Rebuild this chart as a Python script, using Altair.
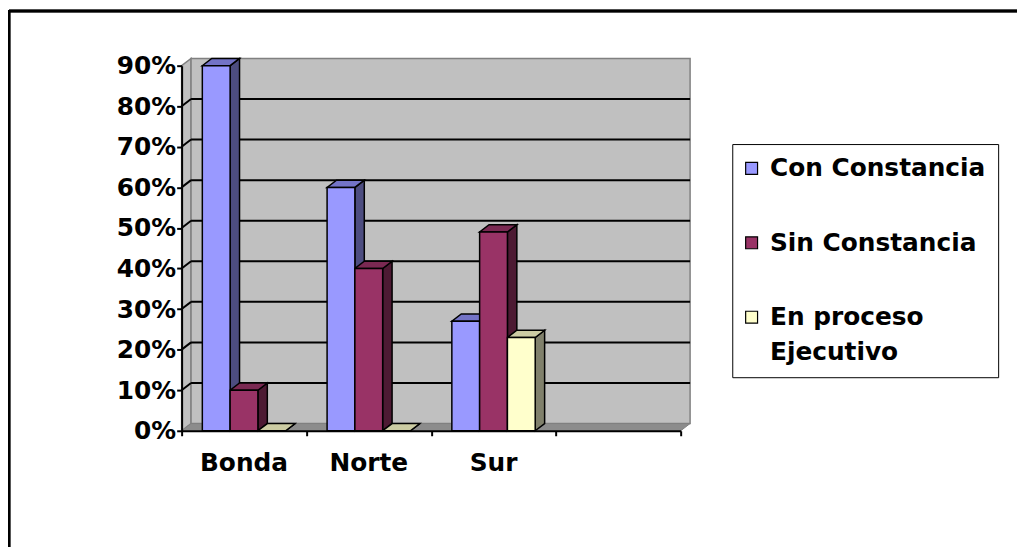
import altair as alt
import pandas as pd

# ---------------- data ----------------
categories = ["Bonda", "Norte", "Sur", ""]
series = ["Con Constancia", "Sin Constancia", "En proceso Ejecutivo"]
con_constancia = [0.90, 0.60, 0.27]
sin_constancia = [0.10, 0.40, 0.49]
en_proceso = [0.00, 0.00, 0.23]
values = [con_constancia, sin_constancia, en_proceso]
y_ticks = [0.0, 0.1, 0.2, 0.3, 0.4, 0.5, 0.6, 0.7, 0.8, 0.9]
grid_levels = [0.1, 0.2, 0.3, 0.4, 0.5, 0.6, 0.7, 0.8]

front_colors = ["#9999FF", "#993366", "#FFFFCC"]
top_colors = ["#7373C6", "#7A2952", "#CCCCA3"]
side_colors = ["#4D4D80", "#4D1A33", "#80806B"]

# ---------------- geometry (scale units) ----------------
W, H = 503, 368
XMAX, YMAX = len(categories), 0.9
DX = 9.5 * XMAX / W          # depth offset in x units
DY = 7.3 * YMAX / H          # depth offset in y units
BW = 0.2227                  # bar width in band units
OFF = (1 - 3 * BW) / 2

fronts = []
polys = []   # (dataframe, colour) in drawing order
for j, s in enumerate(series):
    for i in range(3):
        v = values[j][i]
        xl = i + OFF + j * BW
        xr = xl + BW
        fronts.append({"series": s, "x": xl, "x2": xr, "y": 0.0, "y2": v})
        side = pd.DataFrame({"x": [xr, xr + DX], "y": [0.0, DY], "y2": [v, v + DY]})
        top = pd.DataFrame({"x": [xl, xl + DX, xr, xr + DX],
                            "y": [v, v, v, v + DY],
                            "y2": [v, v + DY, v + DY, v + DY]})
        polys.append((side, side_colors[j]))
        polys.append((top, top_colors[j]))
fronts_df = pd.DataFrame(fronts)

left_wall = pd.DataFrame({"x": [0, DX], "y": [0, DY], "y2": [YMAX, YMAX + DY]})
back_wall = pd.DataFrame({"x": [DX], "x2": [XMAX + DX], "y": [DY], "y2": [YMAX + DY]})
floor = pd.DataFrame({"x": [0, DX, XMAX, XMAX + DX], "y": [0, 0, 0, DY], "y2": [0, DY, DY, DY]})
grid_df = pd.DataFrame({"v": grid_levels, "x0": 0.0, "x1": DX, "xe": XMAX + DX,
                        "vb": [g + DY for g in grid_levels]})
cat_df = pd.DataFrame({"cat": categories, "pos": [i + 0.5 for i in range(len(categories))]})

FONT = "DejaVu Sans"
xs = alt.Scale(domain=[0, XMAX], nice=False, zero=False)
ys = alt.Scale(domain=[0, YMAX], nice=False, zero=False)
x_axis = alt.Axis(values=list(range(XMAX + 1)), labels=False, title=None, grid=False,
                  domainColor="black", domainWidth=2, tickColor="black", tickWidth=2,
                  tickSize=5, zindex=2)
y_axis = alt.Axis(values=y_ticks, format=".0%", title=None, grid=False,
                  domainColor="black", domainWidth=2, tickColor="black", tickWidth=2,
                  tickSize=5, labelFont=FONT, labelFontSize=25, labelFontWeight="bold",
                  labelColor="black", labelPadding=1, zindex=2)


def X(f):
    return alt.X(f, scale=xs, axis=x_axis, title=None)


def Y(f):
    return alt.Y(f, scale=ys, axis=y_axis, title=None, stack=None)


layers = []
layers.append(alt.Chart(left_wall).mark_area(orient="vertical", fill="#C0C0C0", stroke="#808080",
                                             strokeWidth=1.5).encode(x=X("x:Q"), y=Y("y:Q"), y2="y2:Q"))
layers.append(alt.Chart(back_wall).mark_rect(fill="#C0C0C0", stroke="#808080", strokeWidth=1.5).encode(
    x=X("x:Q"), x2="x2:Q", y=Y("y:Q"), y2="y2:Q"))
layers.append(alt.Chart(floor).mark_area(orient="vertical", fill="#8C8C8C", stroke="#808080",
                                         strokeWidth=1).encode(x=X("x:Q"), y=Y("y:Q"), y2="y2:Q"))
layers.append(alt.Chart(grid_df).mark_rule(color="black", strokeWidth=2).encode(
    x=X("x0:Q"), x2="x1:Q", y=Y("v:Q"), y2="vb:Q"))
layers.append(alt.Chart(grid_df).mark_rule(color="black", strokeWidth=2).encode(
    x=X("x1:Q"), x2="xe:Q", y=Y("vb:Q")))

for df, col in polys:
    layers.append(alt.Chart(df).mark_area(orient="vertical", fill=col, stroke="black",
                                          strokeWidth=1.5, opacity=1).encode(
        x=X("x:Q"), y=Y("y:Q"), y2="y2:Q"))

layers.append(alt.Chart(fronts_df).mark_rect(stroke="black", strokeWidth=1.5, opacity=1).encode(
    x=X("x:Q"), x2="x2:Q", y=Y("y:Q"), y2="y2:Q",
    color=alt.Color("series:N", scale=alt.Scale(domain=series, range=front_colors),
                    legend=alt.Legend(
                        orient="none", legendX=555, legendY=79, title=None,
                        labelFont=FONT, labelFontSize=25, labelFontWeight="bold",
                        labelColor="black", labelLimit=500, labelOffset=6,
                        labelExpr="datum.label == 'En proceso Ejecutivo' ? ['En proceso', 'Ejecutivo'] : datum.label",
                        symbolType="square", symbolSize=144, symbolStrokeColor="black",
                        symbolStrokeWidth=1.2, symbolOpacity=1, symbolOffset=-5,
                        rowPadding=49, padding=12,
                        strokeColor="black", fillColor="white"))))

layers.append(alt.Chart(cat_df).mark_text(font=FONT, fontSize=25, fontWeight="bold", color="black",
                                          baseline="alphabetic", dy=41).encode(
    x=X("pos:Q"), y=alt.datum(0), text="cat:N"))

layers.append(alt.Chart(cat_df).mark_rule(color="black", strokeWidth=2.5).encode(
    x=alt.value(-174), x2=alt.value(W + 400), y=alt.value(-55)))
layers.append(alt.Chart(cat_df).mark_rule(color="black", strokeWidth=2.5).encode(
    x=alt.value(-174), y=alt.value(-56), y2=alt.value(H + 200)))

chart = alt.layer(*layers).properties(
    width=W, height=H,
    padding={"left": 175, "top": 56, "right": 339, "bottom": 115},
    autosize=alt.AutoSizeParams(type="none"),
    background="white",
).configure_view(stroke=None).configure(style={"guide-label": {"lineHeight": 35}})

chart.save("out.html", embed_options={"renderer": "svg", "actions": False})
